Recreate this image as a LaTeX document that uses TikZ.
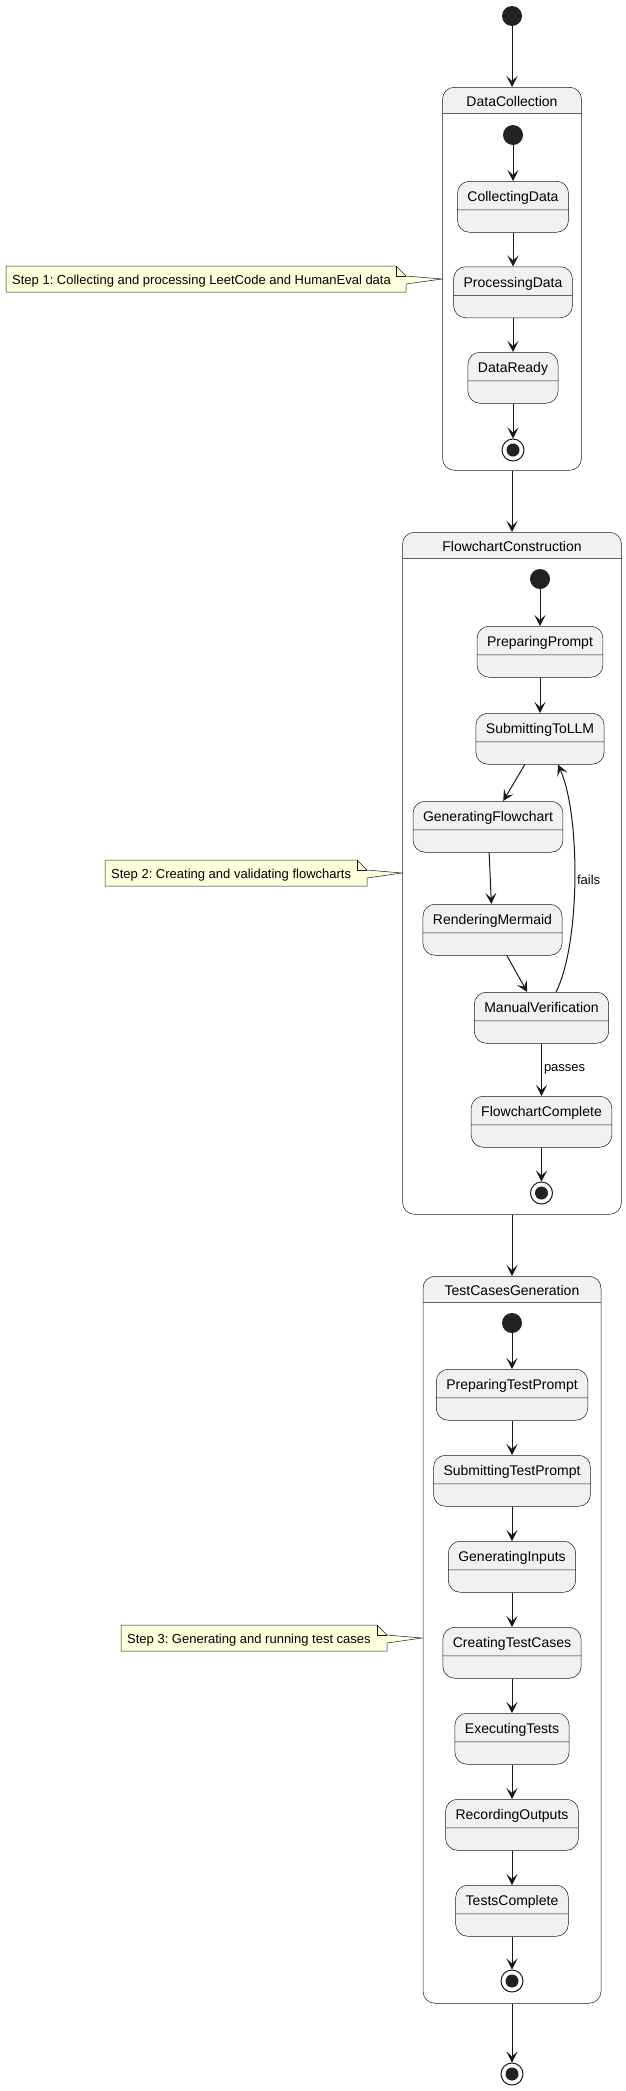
\documentclass[tikz,border=0pt]{standalone}
\usepackage{fontspec}
\setmainfont{Liberation Sans}
\usetikzlibrary{arrows.meta, shapes.multipart}

\definecolor{lineC}{HTML}{181818}
\definecolor{stateC}{HTML}{F1F1F1}
\definecolor{dotC}{HTML}{222222}
\definecolor{noteC}{HTML}{FEFFDD}
\newcommand{\stfont}{\fontsize{14}{16}\selectfont}
\newcommand{\notefont}{\fontsize{13}{15}\selectfont}
\frenchspacing

\begin{document}
\begin{tikzpicture}[x=1pt, y=-1pt,
  stbox/.style={rectangle split, rectangle split parts=2, draw=lineC, line width=0.5pt, fill=stateC,
    rounded corners=12pt, inner xsep=10pt, inner ysep=0pt, font=\stfont, anchor=north},
  grpbox/.style={draw=lineC, line width=0.5pt, fill=white, rounded corners=12pt, anchor=north,
    path picture={
      \fill[stateC, sharp corners] (path picture bounding box.north west) rectangle ([yshift=-26pt]path picture bounding box.north east);
      \draw[lineC!70, line width=0.5pt] ([yshift=-26pt]path picture bounding box.north west) -- ([yshift=-26pt]path picture bounding box.north east);}},
  grptitle/.style={font=\stfont, anchor=base, inner sep=0pt},
  startpt/.style={circle, fill=dotC, minimum size=20pt, inner sep=0pt},
  endpt/.style={circle, draw=lineC, line width=1pt, fill=white, minimum size=22pt, inner sep=0pt,
    path picture={\fill[dotC] (path picture bounding box.center) circle (6.5pt);}},
  flow/.style={draw=lineC, line width=1pt, -{Stealth[length=11pt, width=11pt, inset=5pt]}},
  lbl/.style={font=\notefont, inner sep=2pt},
  notebox/.style={draw=lineC, line width=0.5pt, fill=noteC, line join=miter},
  notetext/.style={font=\notefont, anchor=base west, inner sep=0pt}]
\useasboundingbox (0,0) rectangle (626,2091);

%composite states:
\node[grpbox, minimum width=139pt, minimum height=383pt] (DataCollection) at (512,87) {};
\node[grptitle] (dcTitle) at ([yshift=-19pt]DataCollection.north) {DataCollection};
\node[grpbox, minimum width=219pt, minimum height=682pt] (FlowchartConstruction) at (512,532) {};
\node[grptitle] (fcTitle) at ([yshift=-19pt]FlowchartConstruction.north) {FlowchartConstruction};
\node[grpbox, minimum width=178pt, minimum height=727pt] (TestCasesGeneration) at (512,1276) {};
\node[grptitle] (tcTitle) at ([yshift=-19pt]TestCasesGeneration.north) {TestCasesGeneration};

%outer start and end:
\node[startpt] (start) at (512,16) {};
\node[endpt] (finish) at (512,2074) {};
\draw[flow] (start) -- (DataCollection.north);
\draw[flow] (DataCollection.south) -- (FlowchartConstruction.north);
\draw[flow] (FlowchartConstruction.south) -- (TestCasesGeneration.north);
\draw[flow] (TestCasesGeneration.south) -- (finish);

%step 1:
\node[startpt] (dcStart) at (513,135) {};
\foreach \n [count=\i from 0] in {CollectingData, ProcessingData, DataReady} {
	\node[stbox] (\n) at (513,181+85.5*\i) {\rule[-8pt]{0pt}{28pt}\n\nodepart{two}\rule{0pt}{22pt}};
}
\node[endpt] (dcEnd) at (513,450) {};
\foreach \a/\b in {dcStart/CollectingData, CollectingData/ProcessingData, ProcessingData/DataReady, DataReady/dcEnd} {
	\draw[flow] (\a) -- (\b);
}

%step 2:
\node[startpt] (fcStart) at (540,579) {};
\foreach \n/\x/\y in {PreparingPrompt/540/626, SubmittingToLLM/540/713, GeneratingFlowchart/488/801,
	RenderingMermaid/492.5/904, ManualVerification/541.5/992, FlowchartComplete/541.5/1096} {
	\node[stbox] (\n) at (\x,\y) {\rule[-8pt]{0pt}{28pt}\n\nodepart{two}\rule{0pt}{22pt}};
}
\node[endpt] (fcEnd) at (541.5,1193) {};
\foreach \a/\b in {fcStart/PreparingPrompt, PreparingPrompt/SubmittingToLLM, SubmittingToLLM/GeneratingFlowchart,
	GeneratingFlowchart/RenderingMermaid, RenderingMermaid/ManualVerification, FlowchartComplete/fcEnd} {
	\draw[flow] (\a) -- (\b);
}
\draw[flow] (ManualVerification) -- node[lbl, right] (passesLbl) {passes} (FlowchartComplete);
\draw[flow] ([xshift=14.5pt]ManualVerification.north) .. controls +(24,-47) and +(23,52) .. ([xshift=18pt]SubmittingToLLM.south)
	node[lbl, right, pos=0.5] (failsLbl) {fails};

%step 3:
\node[startpt] (tcStart) at (512,1323) {};
\foreach \n [count=\i from 0] in {PreparingTestPrompt, SubmittingTestPrompt, GeneratingInputs, CreatingTestCases,
	ExecutingTests, RecordingOutputs, TestsComplete} {
	\node[stbox] (\n) at (512,1369+86*\i) {\rule[-8pt]{0pt}{28pt}\n\nodepart{two}\rule{0pt}{22pt}};
}
\node[endpt] (tcEnd) at (512,1981) {};
\foreach \a/\b in {tcStart/PreparingTestPrompt, PreparingTestPrompt/SubmittingTestPrompt, SubmittingTestPrompt/GeneratingInputs,
	GeneratingInputs/CreatingTestCases, CreatingTestCases/ExecutingTests, ExecutingTests/RecordingOutputs,
	RecordingOutputs/TestsComplete, TestsComplete/tcEnd} {
	\draw[flow] (\a) -- (\b);
}

%notes:
\foreach \nl/\nr/\nt/\tx/\txt [count=\k] in {6/406/266/442/{Step 1: Collecting and processing LeetCode and HumanEval data},
	105/367/860/402/{Step 2: Creating and validating flowcharts},
	121/387/1625/422/{Step 3: Generating and running test cases}} {
	\draw[notebox] (\nl,\nt) -- (\nr-10,\nt) -- (\nr,\nt+10) -- (\tx,\nt+13) -- (\nr,\nt+18) -- (\nr,\nt+26) -- (\nl,\nt+26) -- cycle;
	\draw[notebox, fill=none] (\nr-10,\nt) -- (\nr-10,\nt+10) -- (\nr,\nt+10);
	\node[notetext] (note\k) at (\nl+6,\nt+18) {\txt};
}
\end{tikzpicture}
\end{document}
